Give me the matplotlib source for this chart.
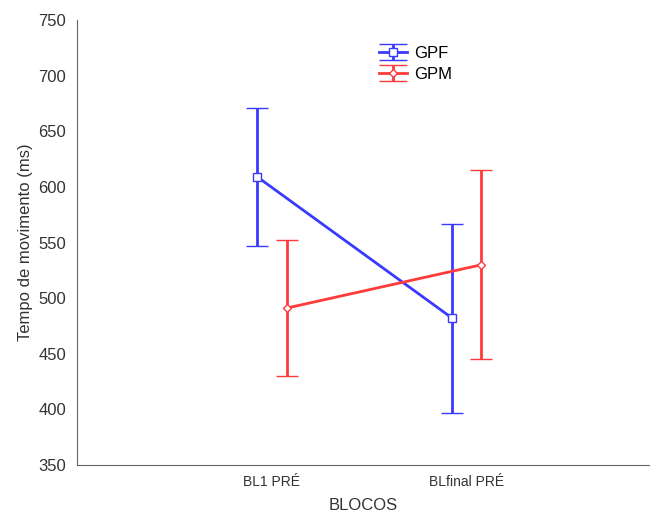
import numpy as np
import matplotlib.pyplot as plt
from matplotlib.legend_handler import HandlerErrorbar
from matplotlib.container import ErrorbarContainer
from matplotlib.lines import Line2D

plt.rcParams['font.family'] = ['Liberation Sans', 'DejaVu Sans']

blocos = ["BL1 PRÉ", "BLfinal PRÉ"]
gpf_media = [609, 482]
gpf_erro = [62, 85]
gpm_media = [491, 530]
gpm_erro = [61, 85]

x = np.array([1, 2])
desloc = 0.075

fig = plt.figure(figsize=(6.5, 5.16), dpi=100)
ax = fig.add_axes([0.1185, 0.099, 0.8815, 0.862])

ax.errorbar(x - desloc, gpf_media, yerr=gpf_erro, color='#3a3aff', lw=2,
            capsize=8, capthick=2, marker='s', ms=6, mfc='white', mec='#3a3aff',
            mew=1, label='GPF')
ax.errorbar(x + desloc, gpm_media, yerr=gpm_erro, color='#ff3a3a', lw=2,
            capsize=8, capthick=2, marker='D', ms=4, mfc='white', mec='#ff3a3a',
            mew=1, label='GPM')

ax.set_xlim(0, 2.94)
ax.set_ylim(350, 750)
ax.set_yticks(np.arange(350, 751, 50))
ax.set_xticks(x)
ax.set_xticklabels(blocos, fontsize=10, color='#333333')
ax.tick_params(axis='y', labelsize=12, colors='#333333', length=0, pad=8)
ax.tick_params(axis='x', length=0, pad=7)
ax.set_ylabel("Tempo de movimento (ms)", fontsize=12, color='#333333')
ax.set_xlabel("BLOCOS", fontsize=12, color='#333333', labelpad=7)

for lado in ['top', 'right']:
    ax.spines[lado].set_visible(False)
for lado in ['left', 'bottom']:
    ax.spines[lado].set_color('#666666')


# tampas largas no símbolo da legenda
def tampa_larga(leg_handle, orig):
    leg_handle.update_from(orig)
    if isinstance(orig, Line2D) and orig.get_marker() == '_':
        leg_handle.set_markersize(20)


ax.legend(loc='upper left', bbox_to_anchor=(0.56, 0.94), bbox_transform=fig.transFigure,
          frameon=False, fontsize=12, handlelength=1.7, labelspacing=0.35,
          handletextpad=0.4,
          handler_map={ErrorbarContainer: HandlerErrorbar(update_func=tampa_larga)})

fig.savefig("out.png", dpi=100)
